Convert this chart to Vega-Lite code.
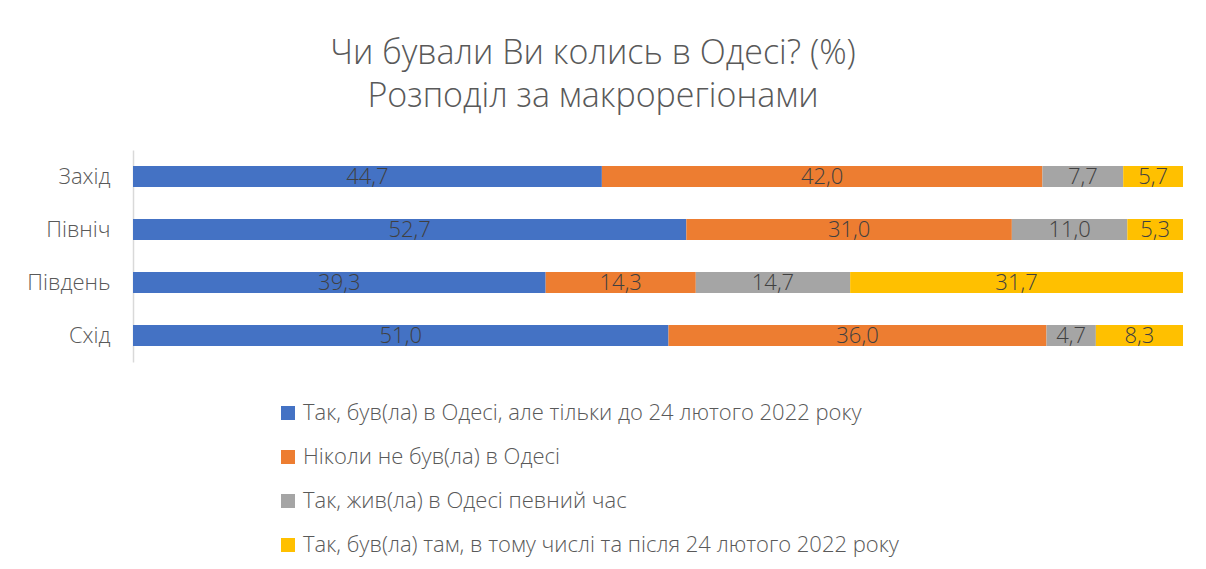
{
  "$schema": "https://vega.github.io/schema/vega-lite/v6.json",
  "width": 1050,
  "height": 212,
  "autosize": {"type": "none"},
  "padding": {"left": 133, "top": 150, "right": 23, "bottom": 207},
  "background": "white",
  "title": {
    "text": ["Чи бували Ви колись в Одесі? (%)", "Розподіл за макрорегіонами"],
    "anchor": "middle",
    "dx": -65,
    "offset": 36,
    "font": "Open Sans",
    "fontWeight": 300,
    "fontSize": 34,
    "lineHeight": 43,
    "color": "#595959"
  },
  "data": {
    "values": [
      {"region": "Захід", "answer": "Так, був(ла) в Одесі, але тільки до 24 лютого 2022 року", "ord": 1, "value": 44.7},
      {"region": "Захід", "answer": "Ніколи не був(ла) в Одесі", "ord": 2, "value": 42.0},
      {"region": "Захід", "answer": "Так, жив(ла) в Одесі певний час", "ord": 3, "value": 7.7},
      {"region": "Захід", "answer": "Так, був(ла) там, в тому числі та після 24 лютого 2022 року", "ord": 4, "value": 5.7},
      {"region": "Північ", "answer": "Так, був(ла) в Одесі, але тільки до 24 лютого 2022 року", "ord": 1, "value": 52.7},
      {"region": "Північ", "answer": "Ніколи не був(ла) в Одесі", "ord": 2, "value": 31.0},
      {"region": "Північ", "answer": "Так, жив(ла) в Одесі певний час", "ord": 3, "value": 11.0},
      {"region": "Північ", "answer": "Так, був(ла) там, в тому числі та після 24 лютого 2022 року", "ord": 4, "value": 5.3},
      {"region": "Південь", "answer": "Так, був(ла) в Одесі, але тільки до 24 лютого 2022 року", "ord": 1, "value": 39.3},
      {"region": "Південь", "answer": "Ніколи не був(ла) в Одесі", "ord": 2, "value": 14.3},
      {"region": "Південь", "answer": "Так, жив(ла) в Одесі певний час", "ord": 3, "value": 14.7},
      {"region": "Південь", "answer": "Так, був(ла) там, в тому числі та після 24 лютого 2022 року", "ord": 4, "value": 31.7},
      {"region": "Схід", "answer": "Так, був(ла) в Одесі, але тільки до 24 лютого 2022 року", "ord": 1, "value": 51.0},
      {"region": "Схід", "answer": "Ніколи не був(ла) в Одесі", "ord": 2, "value": 36.0},
      {"region": "Схід", "answer": "Так, жив(ла) в Одесі певний час", "ord": 3, "value": 4.7},
      {"region": "Схід", "answer": "Так, був(ла) там, в тому числі та після 24 лютого 2022 року", "ord": 4, "value": 8.3}
    ]
  },
  "encoding": {
    "y": {
      "field": "region",
      "type": "nominal",
      "sort": ["Захід", "Північ", "Південь", "Схід"],
      "scale": {"paddingInner": 0.6, "paddingOuter": 0.3},
      "axis": {
        "title": null,
        "ticks": false,
        "domainColor": "#d9d9d9",
        "domainWidth": 1.5,
        "labelFont": "Open Sans",
        "labelFontWeight": 300,
        "labelFontSize": 22,
        "labelColor": "#595959",
        "labelPadding": 23
      }
    },
    "x": {
      "field": "value",
      "type": "quantitative",
      "stack": "normalize",
      "scale": {"domain": [0, 1], "nice": false},
      "axis": null
    },
    "order": {"field": "ord", "type": "quantitative"}
  },
  "layer": [
    {
      "mark": {"type": "bar"},
      "encoding": {
        "color": {
          "field": "answer",
          "type": "nominal",
          "sort": {"field": "ord"},
          "scale": {
            "domain": [
              "Так, був(ла) в Одесі, але тільки до 24 лютого 2022 року",
              "Ніколи не був(ла) в Одесі",
              "Так, жив(ла) в Одесі певний час",
              "Так, був(ла) там, в тому числі та після 24 лютого 2022 року"
            ],
            "range": ["#4472C4", "#ED7D31", "#A5A5A5", "#FFC000"]
          },
          "legend": {
            "title": null,
            "orient": "none",
            "legendX": 144,
            "legendY": 252,
            "direction": "vertical",
            "symbolType": "square",
            "symbolSize": 196,
            "symbolStrokeWidth": 0,
            "labelFont": "Open Sans",
            "labelFontWeight": 300,
            "labelFontSize": 22,
            "labelColor": "#595959",
            "labelLimit": 800,
            "labelOffset": 4,
            "rowPadding": 22
          }
        }
      }
    },
    {
      "mark": {"type": "text", "font": "Open Sans", "fontWeight": 300, "fontSize": 22, "color": "#404040", "baseline": "middle", "align": "center"},
      "encoding": {
        "x": {"field": "value", "type": "quantitative", "stack": "normalize", "bandPosition": 0.5},
        "text": {"field": "value", "type": "quantitative", "format": ".1f", "formatType": "number"}
      }
    }
  ],
  "config": {
    "view": {"stroke": null},
    "locale": {"number": {"decimal": ",", "thousands": " ", "grouping": [3], "currency": ["", ""]}}
  }
}
